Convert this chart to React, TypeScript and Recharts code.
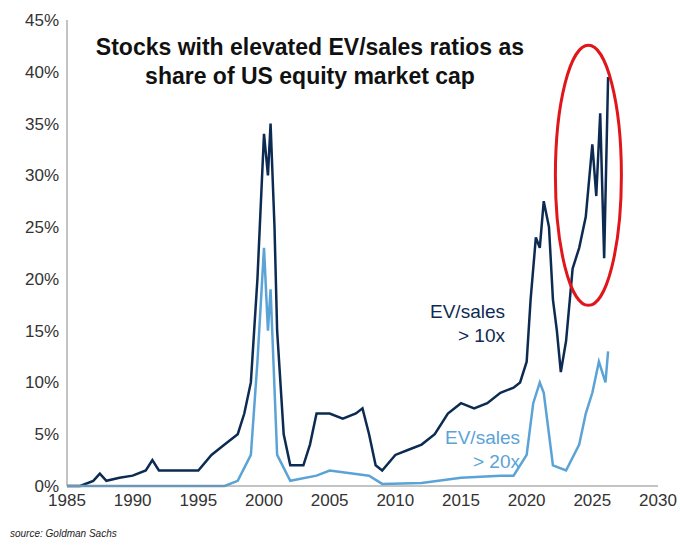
import { LineChart, Line, XAxis, YAxis, ReferenceDot } from 'recharts'

const years10 = [1985, 1986, 1987, 1987.5, 1988, 1989, 1990, 1991, 1991.5, 1992, 1993, 1994, 1995, 1996, 1997, 1998, 1998.5, 1999, 1999.5, 2000, 2000.3, 2000.5, 2000.8, 2001, 2001.5, 2002, 2003, 2003.5, 2004, 2005, 2006, 2007, 2007.5, 2008, 2008.5, 2009, 2010, 2011, 2012, 2013, 2014, 2015, 2016, 2017, 2018, 2019, 2019.5, 2020, 2020.3, 2020.7, 2021, 2021.3, 2021.7, 2022, 2022.3, 2022.6, 2023, 2023.5, 2024, 2024.5, 2025, 2025.3, 2025.6, 2025.9, 2026.2]
const ratio10 = [0, 0, 0.5, 1.2, 0.5, 0.8, 1, 1.5, 2.5, 1.5, 1.5, 1.5, 1.5, 3, 4, 5, 7, 10, 20, 34, 30, 35, 25, 15, 5, 2, 2, 4, 7, 7, 6.5, 7, 7.5, 5, 2, 1.5, 3, 3.5, 4, 5, 7, 8, 7.5, 8, 9, 9.5, 10, 12, 18, 24, 23, 27.5, 25, 18, 15, 11, 14, 21, 23, 26, 33, 28, 36, 22, 39.5]

const years20 = [1985, 1997, 1998, 1999, 1999.5, 2000, 2000.3, 2000.5, 2001, 2002, 2004, 2005, 2008, 2009, 2012, 2015, 2018, 2019, 2020, 2020.5, 2021, 2021.3, 2021.7, 2022, 2023, 2024, 2024.5, 2025, 2025.5, 2026, 2026.2]
const ratio20 = [0, 0, 0.5, 3, 12, 23, 15, 19, 3, 0.5, 1, 1.5, 1, 0.2, 0.3, 0.8, 1, 1, 3, 8, 10, 9, 5, 2, 1.5, 4, 7, 9, 12, 10, 13]

const xTicks = [1985, 1990, 1995, 2000, 2005, 2010, 2015, 2020, 2025, 2030]
const yTicks = [0, 5, 10, 15, 20, 25, 30, 35, 40, 45]

const data10 = years10.map((x, i) => ({ x, v: ratio10[i] }))
const data20 = years20.map((x, i) => ({ x, v: ratio20[i] }))

const tick = { fill: '#333', fontSize: 17, fontFamily: 'Arial, Liberation Sans, sans-serif' }

export default function App() {
  return (
    <div style={{ position: 'absolute', left: 0, top: 0, width: 680, height: 548, background: '#fff', fontFamily: 'Arial, Liberation Sans, sans-serif' }}>
      <LineChart width={680} height={520} margin={{ top: 20, right: 22, bottom: 4, left: 5 }}>
        <XAxis type="number" dataKey="x" domain={[1985, 2030]} ticks={xTicks} tick={tick} stroke="#888" tickLine={false} allowDuplicatedCategory={false} height={30} />
        <YAxis type="number" domain={[0, 45]} ticks={yTicks} tick={tick} stroke="#888" tickLine={false} width={62} tickFormatter={(v) => `${v}%`} />
        <Line data={data10} dataKey="v" stroke="#0d2b52" strokeWidth={2.5} dot={false} isAnimationActive={false} />
        <Line data={data20} dataKey="v" stroke="#5ba3d6" strokeWidth={2.5} dot={false} isAnimationActive={false} />
        <ReferenceDot x={2024.7} y={30} r={1} shape={(p: any) => (
          <ellipse cx={p.cx} cy={p.cy} rx={33} ry={130} fill="none" stroke="#e0161b" strokeWidth={3} />
        )} />
      </LineChart>
      <div style={{ position: 'absolute', left: 60, top: 33, width: 500, textAlign: 'center', fontWeight: 'bold', fontSize: 23, lineHeight: '29px', color: '#111' }}>
        Stocks with elevated EV/sales ratios as<br />share of US equity market cap
      </div>
      <div style={{ position: 'absolute', left: 405, top: 300, width: 100, textAlign: 'right', fontSize: 19, lineHeight: '24px', color: '#0d2b52' }}>
        EV/sales<br />&gt; 10x
      </div>
      <div style={{ position: 'absolute', left: 420, top: 426, width: 100, textAlign: 'right', fontSize: 19, lineHeight: '24px', color: '#5ba3d6' }}>
        EV/sales<br />&gt; 20x
      </div>
      <div style={{ position: 'absolute', left: 10, top: 528, fontSize: 10, fontStyle: 'italic', color: '#222' }}>source: Goldman Sachs</div>
    </div>
  )
}
